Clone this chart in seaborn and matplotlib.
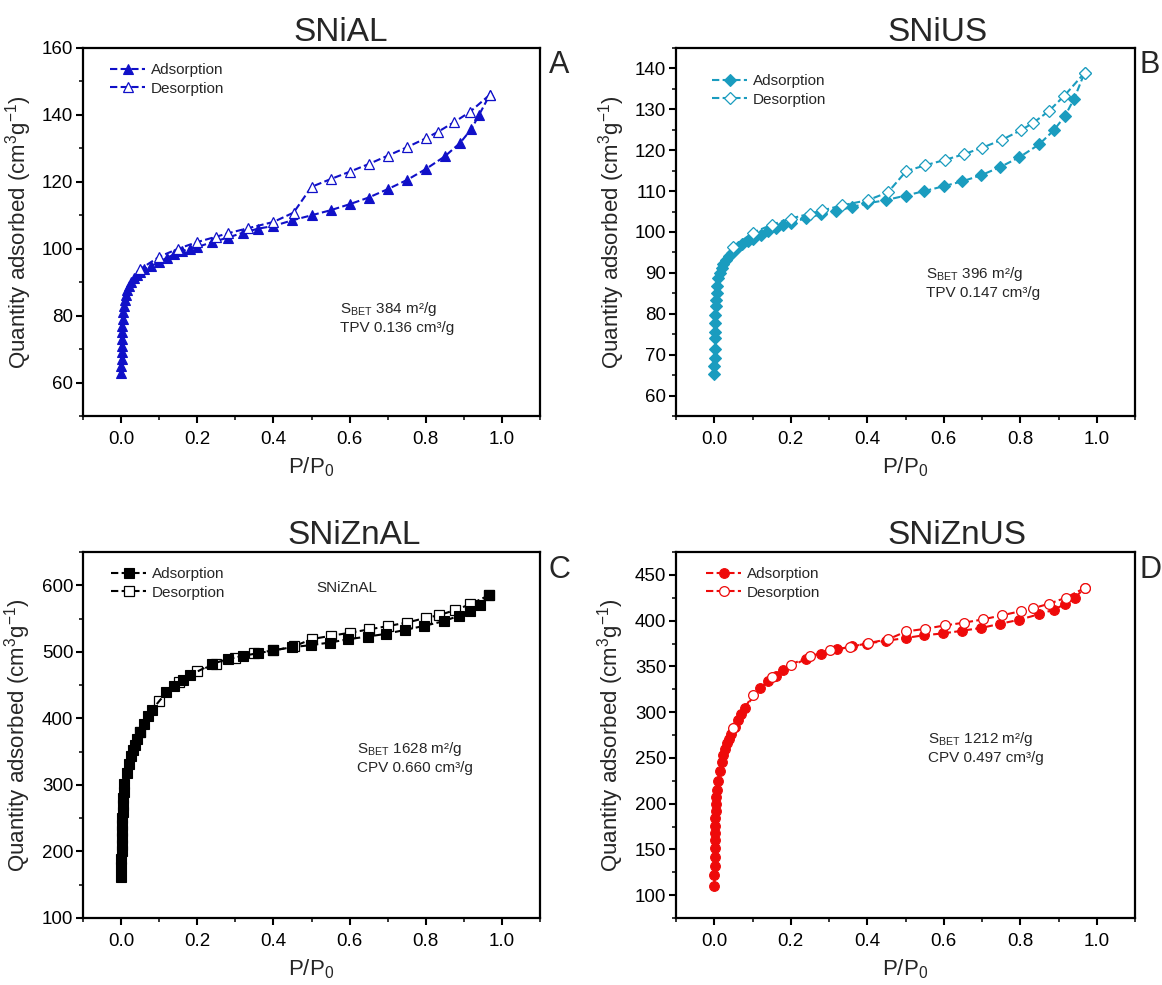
import matplotlib
matplotlib.use("Agg")
import matplotlib.pyplot as plt
from matplotlib.ticker import MultipleLocator
import seaborn as sns
import pandas as pd

# ---------------- data ----------------
titles = ["SNiAL", "SNiUS", "SNiZnAL", "SNiZnUS"]
letters = ["A", "B", "C", "D"]

a_ads_x = [0.0005, 0.0008, 0.0011, 0.0014, 0.0018, 0.0023, 0.0029, 0.0036, 0.0045, 0.0056,
           0.007, 0.009, 0.012, 0.016, 0.021, 0.027, 0.034, 0.042, 0.05, 0.06,
           0.078, 0.1, 0.12, 0.14, 0.16, 0.18, 0.2, 0.24, 0.28, 0.32,
           0.36, 0.40, 0.45, 0.50, 0.55, 0.60, 0.65, 0.70, 0.75, 0.80,
           0.85, 0.89, 0.92, 0.94, 0.968]
a_ads_y = [63, 65, 67, 69, 71, 73, 75, 77, 79, 81,
           83, 84.8, 86.3, 87.7, 89, 90.2, 91.2, 92.1, 92.9, 93.8,
           94.8, 96, 97.3, 98.3, 99.3, 100, 100.5, 102, 103.3, 104.8,
           106, 106.8, 108.5, 110, 111.5, 113.3, 115.3, 117.8, 120.5, 123.8,
           127.6, 131.6, 135.8, 140, 146]
a_des_x = [0.968, 0.915, 0.874, 0.833, 0.80, 0.75, 0.70, 0.65, 0.60, 0.55,
           0.50, 0.453, 0.40, 0.332, 0.28, 0.25, 0.20, 0.15, 0.10, 0.049]
a_des_y = [146, 140.8, 137.8, 135, 133, 130.3, 127.8, 125.3, 123, 120.8,
           118.5, 110.8, 108, 106.1, 104.6, 103.6, 102, 100, 97.6, 93.8]

b_ads_x = [0.0003, 0.0005, 0.0008, 0.001, 0.0015, 0.002, 0.0025, 0.003, 0.004, 0.005,
           0.006, 0.008, 0.011, 0.015, 0.02, 0.024, 0.031, 0.039, 0.046, 0.054,
           0.063, 0.073, 0.088, 0.1, 0.122, 0.141, 0.161, 0.18, 0.2, 0.239,
           0.278, 0.319, 0.359, 0.4, 0.449, 0.5, 0.549, 0.6, 0.649, 0.698,
           0.748, 0.798, 0.849, 0.888, 0.917, 0.941, 0.968]
b_ads_y = [65.2, 67.2, 69.1, 71.5, 74, 75.6, 77.7, 79.7, 81.8, 83.4,
           85.2, 86.8, 88.7, 89.9, 91.2, 92.2, 93.2, 94.2, 94.8, 95.7,
           96.3, 97.1, 97.9, 98.3, 99.3, 100.2, 101.1, 101.8, 102.2, 103.4,
           104.3, 105.1, 106.1, 107, 107.8, 108.9, 110, 111.2, 112.4, 113.9,
           115.9, 118.3, 121.4, 124.9, 128.4, 132.6, 138.9]
b_des_x = [0.968, 0.915, 0.875, 0.834, 0.802, 0.751, 0.70, 0.652, 0.602, 0.551,
           0.502, 0.454, 0.402, 0.334, 0.283, 0.251, 0.2, 0.151, 0.1, 0.049]
b_des_y = [138.9, 133.3, 129.6, 126.7, 124.9, 122.5, 120.6, 119, 117.6, 116.3,
           114.9, 109.7, 107.8, 106.5, 105.3, 104.5, 103.3, 101.8, 99.8, 96.3]

c_ads_x = [0.0005, 0.0008, 0.001, 0.0013, 0.0016, 0.002, 0.0024, 0.0028, 0.0033, 0.0039,
           0.0046, 0.0055, 0.0066, 0.008, 0.0146, 0.021, 0.027, 0.032, 0.037, 0.043,
           0.05, 0.06, 0.07, 0.08, 0.119, 0.14, 0.162, 0.182, 0.24, 0.28,
           0.32, 0.36, 0.40, 0.449, 0.498, 0.549, 0.597, 0.648, 0.696, 0.746,
           0.796, 0.847, 0.886, 0.916, 0.942, 0.966]
c_ads_y = [161, 176, 188, 200, 210, 220, 230, 240, 250, 260,
           270, 280, 290, 302, 318, 332, 343, 352, 360, 369,
           380, 392, 403, 412, 439, 449, 458, 465, 482, 489,
           494, 498, 502, 507, 510, 514, 519, 523, 527, 533,
           539, 546, 554, 561, 570, 585]
c_des_x = [0.966, 0.917, 0.876, 0.835, 0.80, 0.751, 0.70, 0.65, 0.60, 0.55,
           0.50, 0.453, 0.40, 0.35, 0.30, 0.25, 0.20, 0.152, 0.099, 0.05]
c_des_y = [585, 571.5, 562.6, 555, 551, 544, 538.6, 533.6, 528.6, 524,
           519, 508, 502, 498, 490, 482, 471, 454, 426, 380]

d_ads_x = [0.0003, 0.0005, 0.0008, 0.001, 0.0013, 0.0016, 0.002, 0.0025, 0.003, 0.0037,
           0.0045, 0.0055, 0.007, 0.01, 0.014, 0.0195, 0.024, 0.029, 0.034, 0.039,
           0.044, 0.054, 0.062, 0.07, 0.08, 0.12, 0.14, 0.161, 0.18, 0.239,
           0.28, 0.322, 0.361, 0.4, 0.45, 0.5, 0.548, 0.598, 0.649, 0.698,
           0.748, 0.798, 0.849, 0.888, 0.917, 0.943, 0.968]
d_ads_y = [110, 122, 132, 142, 151, 160, 168, 175.5, 184, 192,
           200, 207.5, 215, 225, 236, 246, 253, 260, 266, 271,
           276, 284, 291, 298, 305, 326, 334, 340, 346, 358,
           364, 368.6, 372, 375, 378, 381, 384, 386, 389, 392,
           396.6, 401, 407, 412, 418, 425, 435.5]
d_des_x = [0.968, 0.919, 0.875, 0.834, 0.802, 0.751, 0.702, 0.652, 0.602, 0.551,
           0.502, 0.454, 0.402, 0.354, 0.302, 0.251, 0.2, 0.151, 0.1, 0.049]
d_des_y = [435.5, 425, 418.4, 413.6, 410.4, 405.7, 401.3, 397.7, 394.7, 391,
           388.2, 379.5, 375.5, 371, 367.5, 361, 352, 338.4, 318.4, 283]

annot_lines = [("384 m²/g", "TPV 0.136 cm³/g"),
               ("396 m²/g", "TPV 0.147 cm³/g"),
               ("1628 m²/g", "CPV 0.660 cm³/g"),
               ("1212 m²/g", "CPV 0.497 cm³/g")]

# ---------------- style ----------------
sns.set_style("ticks")
plt.rcParams["font.family"] = ["Liberation Sans", "DejaVu Sans"]
plt.rcParams["mathtext.fontset"] = "custom"
plt.rcParams["mathtext.rm"] = "Liberation Sans"
plt.rcParams["mathtext.it"] = "Liberation Sans:italic"
plt.rcParams["mathtext.bf"] = "Liberation Sans:bold"

W, H = 1162, 985
fig = plt.figure(figsize=(W / 100, H / 100), dpi=100)


def px_axes(l, t, r, b):
    return fig.add_axes([l / W, 1 - b / H, (r - l) / W, (b - t) / H])


panels = [
    dict(box=(83, 48, 540, 416), color="#1010c8", marker="^", ms=7.5,
         ads=(a_ads_x, a_ads_y), des=(a_des_x, a_des_y),
         ylim=(50, 160), major=20, minor=10, ticks_from=60,
         leg=(110, 63), ann=(340, 313), title=(293, 41), letter=(549, 73)),
    dict(box=(676, 48, 1135, 416), color="#1a9cbf", marker="D", ms=6.0,
         ads=(b_ads_x, b_ads_y), des=(b_des_x, b_des_y),
         ylim=(55, 145), major=10, minor=5, ticks_from=60,
         leg=(712, 74), ann=(926, 278), title=(887, 41), letter=(1139, 73)),
    dict(box=(83, 552, 540, 918), color="#000000", marker="s", ms=6.8,
         ads=(c_ads_x, c_ads_y), des=(c_des_x, c_des_y),
         ylim=(100, 650), major=100, minor=50, ticks_from=100,
         leg=(111, 567), ann=(357, 753), title=(287, 544), letter=(549, 578)),
    dict(box=(676, 552, 1135, 918), color="#ee0a0a", marker="o", ms=7.0,
         ads=(d_ads_x, d_ads_y), des=(d_des_x, d_des_y),
         ylim=(75, 475), major=50, minor=25, ticks_from=100,
         leg=(706, 567), ann=(928, 743), title=(887, 544), letter=(1139, 578)),
]

dash = (0, (3.5, 1.6))

for i, p in enumerate(panels):
    l, t, r, b = p["box"]
    ax = px_axes(l, t, r, b)
    col = p["color"]
    ads_df = pd.DataFrame({"x": p["ads"][0], "y": p["ads"][1]})
    des_df = pd.DataFrame({"x": p["des"][0], "y": p["des"][1]})

    def draw_ads(z):
        sns.lineplot(data=ads_df, x="x", y="y", ax=ax, sort=False, estimator=None,
                     color=col, lw=1.5, linestyle=dash, marker=p["marker"],
                     markersize=p["ms"], markerfacecolor=col, markeredgecolor=col,
                     markeredgewidth=0.8, label="Adsorption", zorder=z)

    def draw_des(z):
        sns.lineplot(data=des_df, x="x", y="y", ax=ax, sort=False, estimator=None,
                     color=col, lw=1.5, linestyle=dash, marker=p["marker"],
                     markersize=p["ms"], markerfacecolor="white", markeredgecolor=col,
                     markeredgewidth=0.9, label="Desorption", zorder=z)

    if i == 2:
        draw_ads(4)
        draw_des(3)
    else:
        draw_ads(3)
        draw_des(4)

    ax.xaxis.set_major_locator(MultipleLocator(0.2))
    ax.xaxis.set_minor_locator(MultipleLocator(0.1))
    ax.yaxis.set_major_locator(MultipleLocator(p["major"]))
    ax.yaxis.set_minor_locator(MultipleLocator(p["minor"]))
    ax.set_ylim(*p["ylim"])
    ax.set_yticks([v for v in ax.get_yticks() if p["ticks_from"] <= v <= p["ylim"][1]])
    ax.set_xticks([0.0, 0.2, 0.4, 0.6, 0.8, 1.0])
    ax.set_xticklabels(["0.0", "0.2", "0.4", "0.6", "0.8", "1.0"])
    ax.set_ylim(*p["ylim"])
    ax.set_xlim(-0.1, 1.1)

    for s in ax.spines.values():
        s.set_linewidth(1.6)
        s.set_color("black")
        s.set_visible(True)
    ax.tick_params(which="major", direction="out", length=5, width=1.5,
                   labelsize=13.5, pad=2, colors="black", top=False, right=False)
    ax.tick_params(which="minor", direction="out", length=3, width=1.3,
                   top=False, right=False)
    ax.tick_params(axis="x", which="major", pad=6)

    ax.set_xlabel("P/P$_\\mathregular{0}$", fontsize=16, labelpad=5)
    ax.set_ylabel("Quantity adsorbed (cm$^\\mathregular{3}$g$^\\mathregular{-1}$)",
                  fontsize=16, labelpad=6)

    lx, ly = p["leg"]
    ax.legend(loc="upper left",
              bbox_to_anchor=((lx - l) / (r - l), 1 - (ly - t) / (b - t)),
              frameon=False, fontsize=11, handlelength=2.3, handletextpad=0.35,
              labelspacing=0.3, borderpad=0, borderaxespad=0)

    ax_, ay_ = p["ann"]
    fig.text(ax_ / W, 1 - ay_ / H,
             "S$_\\mathregular{BET}$ " + annot_lines[i][0],
             fontsize=11, ha="left", va="baseline")
    fig.text(ax_ / W, 1 - (ay_ + 19) / H, annot_lines[i][1],
             fontsize=11, ha="left", va="baseline")

    tx, ty = p["title"]
    fig.text(tx / W, 1 - ty / H, titles[i], fontsize=24, ha="left", va="baseline")
    gx, gy = p["letter"]
    fig.text(gx / W, 1 - gy / H, letters[i], fontsize=22, ha="left", va="baseline")

    if i == 2:
        fig.text(316 / W, 1 - 592 / H, "SNiZnAL", fontsize=11, ha="left", va="baseline")

fig.savefig("out.png", dpi=100, facecolor="white")
